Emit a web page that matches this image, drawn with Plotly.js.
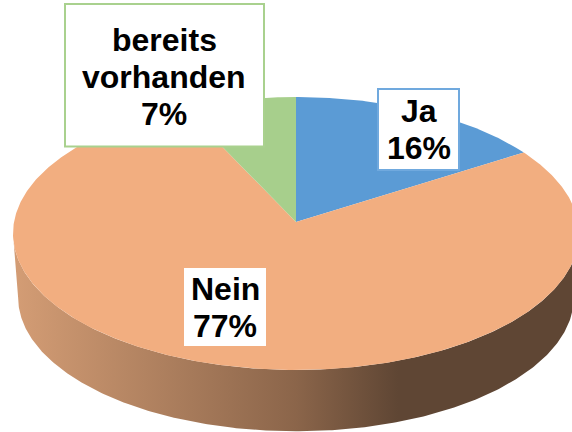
<!DOCTYPE html>
<html>
<head>
<meta charset="utf-8">
<script src="https://cdn.plot.ly/plotly-3.0.1.min.js"></script>
<style>html,body{margin:0;padding:0;background:#fff}#chart{width:572px;height:432px}</style>
</head>
<body>
<div id="chart"></div>
<script>
const categories = ["Ja", "Nein", "bereits vorhanden"];
const shares = [16, 77, 7];
const shareLabels = ["16%", "77%", "7%"];
const sliceColors = ["#5B9BD5", "#F2AE80", "#A7CF8C"];
const labelLines = [["Ja", "16%"], ["Nein", "77%"], ["bereits", "vorhanden", "7%"]];
const labelBorders = ["#70A9DE", "#F2AE80", "#A9D18E"];
const labelBoxes = [[378, 459, 89, 170], [183, 267, 267, 347], [65, 264, 4, 146.5]];
const labelCenters = [[418.5, 129], [225, 307.5], [164, 76.5]];

/* perspective view of the pie disc */
const cx = 296, cy = 222, a = 282, b = 135.5, k = 0.0842;
function rim(theta, scale, dy) {
  const u = Math.sin(theta), v = Math.cos(theta), w = 1 + k * v;
  return [cx + scale * a * u / w, cy + dy - scale * b * v / w];
}
function arc(from, to, scale, dy) {
  const n = Math.max(2, Math.ceil(Math.abs(to - from) / 0.01));
  const pts = [];
  for (let i = 0; i <= n; i++) pts.push(rim(from + (to - from) * i / n, scale, dy));
  return pts;
}

const traces = [];
/* side wall */
const wideStart = Math.PI / 2 + Math.asin(k), wideEnd = 3 * Math.PI / 2 - Math.asin(k);
const wall = arc(wideStart, wideEnd, 1, 0).concat(arc(wideEnd, wideStart, 0.982, 64));
traces.push({
  type: "scatter", mode: "lines", hoverinfo: "skip",
  x: wall.map(p => p[0]), y: wall.map(p => p[1]),
  fill: "toself", line: {width: 0},
  fillgradient: {
    type: "horizontal", start: 13, stop: 579,
    colorscale: [[0, "#D49D75"], [0.5, "#8B654A"], [0.68, "#5F4634"], [1, "#5F4634"]]
  }
});
/* top face */
const total = shares.reduce((s, v) => s + v, 0);
let acc = 0;
shares.forEach((value, i) => {
  const t0 = acc / total * 2 * Math.PI;
  acc += value;
  const t1 = acc / total * 2 * Math.PI;
  const pts = [[cx, cy]].concat(arc(t0, t1, 1, 0)).concat([[cx, cy]]);
  traces.push({
    type: "scatter", mode: "lines", name: categories[i], hoverinfo: "skip",
    x: pts.map(p => p[0]), y: pts.map(p => p[1]),
    fill: "toself", fillcolor: sliceColors[i], line: {width: 0}
  });
});

const shapes = labelBoxes.map((r, i) => ({
  type: "rect", xref: "x", yref: "y", layer: "above",
  x0: r[0], x1: r[1], y0: r[2], y1: r[3],
  fillcolor: "#FFFFFF", line: {color: labelBorders[i], width: 2}
}));
const lineStep = 37;
const annotations = [];
labelLines.forEach((lines, i) => {
  lines.forEach((text, j) => {
    annotations.push({
      xref: "x", yref: "y", showarrow: false, xanchor: "center", yanchor: "middle",
      x: labelCenters[i][0],
      y: labelCenters[i][1] + (j - (lines.length - 1) / 2) * lineStep,
      text: text,
      font: {family: "Liberation Sans, Arial, sans-serif", size: 32, color: "#000", weight: "bold"}
    });
  });
});

Plotly.newPlot("chart", traces, {
  width: 572, height: 432,
  margin: {l: 0, r: 0, t: 0, b: 0},
  paper_bgcolor: "#fff", plot_bgcolor: "#fff",
  showlegend: false,
  xaxis: {range: [0, 572], visible: false, fixedrange: true},
  yaxis: {range: [432, 0], visible: false, fixedrange: true},
  shapes: shapes, annotations: annotations
}, {displayModeBar: false, staticPlot: true});
</script>
</body>
</html>
